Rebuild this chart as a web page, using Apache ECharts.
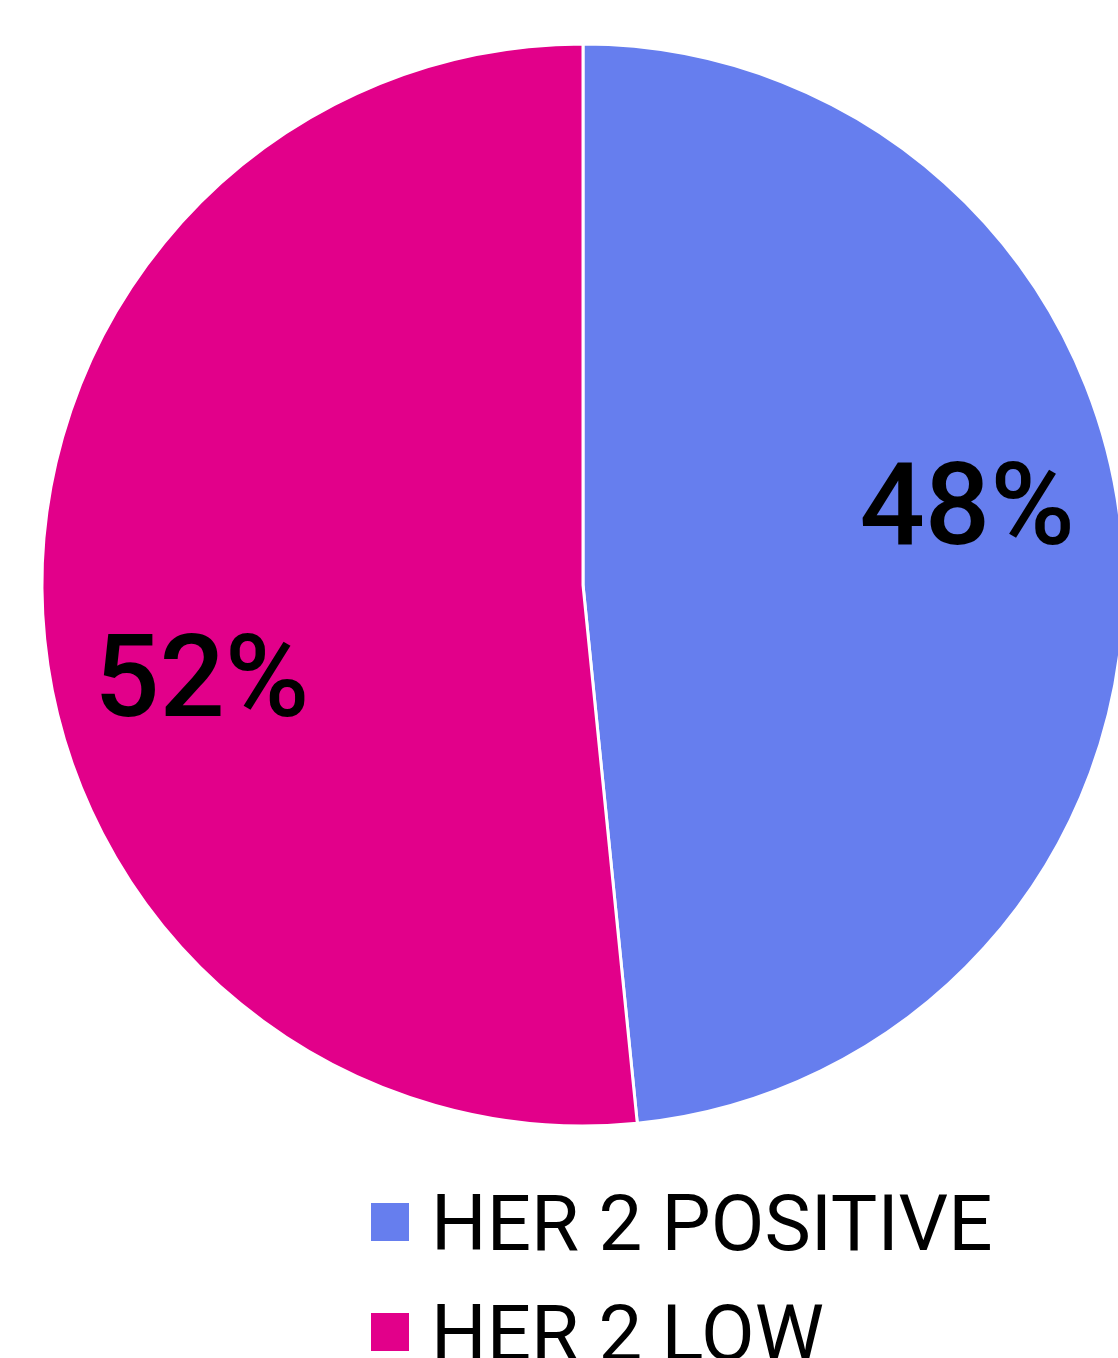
<!DOCTYPE html>
<html>
<head>
<meta charset="utf-8">
<script src="https://cdn.jsdelivr.net/npm/echarts@6/dist/echarts.min.js"></script>
<style>
html,body{margin:0;padding:0;background:#fff;}
#c{width:1118px;height:1358px;}
</style>
</head>
<body>
<div id="c"></div>
<script>
const categories = ['HER 2 POSITIVE', 'HER 2 LOW'];
const values = [48.4, 51.6];
const colors = ['#667EEE', '#E2008A'];

const chart = echarts.init(document.getElementById('c'), null, {renderer: 'canvas'});
const labelShift = [[111, -56], [-108, 89]];
chart.setOption({
  animation: false,
  backgroundColor: '#ffffff',
  color: colors,
  legend: {
    orient: 'vertical',
    left: 366,
    top: 1186,
    height: 400,
    icon: 'path://M0,0h38v38h-38zM0,54L38,54',
    itemWidth: 38,
    itemHeight: 54,
    itemGap: 32,
    itemStyle: {borderWidth: 0},
    data: categories,
    textStyle: {
      fontFamily: 'Roboto',
      fontSize: 78,
      color: '#000',
      padding: [0, 0, 0, 17]
    }
  },
  series: [{
    type: 'pie',
    center: [583, 585],
    radius: 541,
    startAngle: 90,
    clockwise: true,
    avoidLabelOverlap: false,
    itemStyle: {borderColor: '#ffffff', borderWidth: 3},
    label: {
      show: true,
      position: 'inside',
      fontFamily: 'Roboto',
      fontWeight: 500,
      fontSize: 115,
      color: '#000',
      formatter: p => Math.round(p.percent) + '%'
    },
    labelLine: {show: false},
    labelLayout: p => ({dx: labelShift[p.dataIndex][0], dy: labelShift[p.dataIndex][1]}),
    data: categories.map((c, i) => ({name: c, value: values[i]}))
  }]
});
</script>
</body>
</html>
